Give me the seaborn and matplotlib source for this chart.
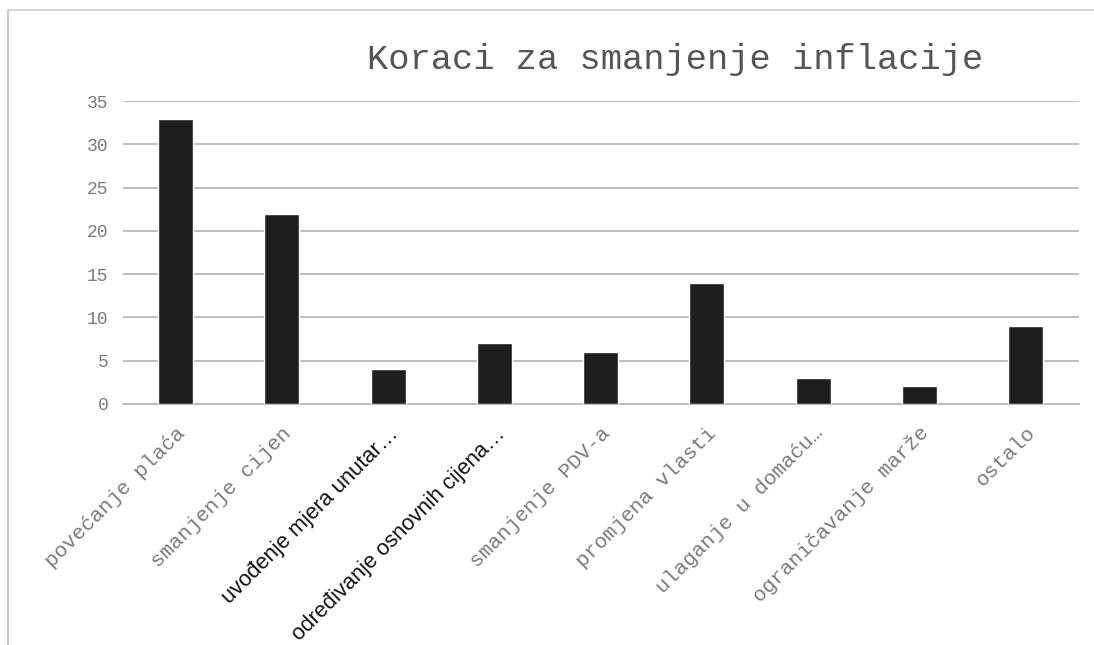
import matplotlib
matplotlib.use('Agg')
import matplotlib.pyplot as plt
import seaborn as sns
import pandas as pd
from matplotlib.lines import Line2D

categories = ["povećanje plaća", "smanjenje cijen", "uvođenje mjera unutar…",
              "određivanje osnovnih cijena…", "smanjenje PDV-a", "promjena vlasti",
              "ulaganje u domaću…", "ograničavanje marže", "ostalo"]
values = [33, 22, 4, 7, 6, 14, 3, 2, 9]
sans_labels = ["uvođenje mjera unutar…", "određivanje osnovnih cijena…"]
title = "Koraci za smanjenje inflacije"

df = pd.DataFrame({"korak": categories, "broj": values})

sns.set_theme(style="white")
plt.rcParams['font.family'] = ['Liberation Mono', 'DejaVu Sans Mono']

fig = plt.figure(figsize=(10.94, 6.45), dpi=100)
ax = fig.add_axes([0.112, 0.374, 0.874, 0.469])

sns.barplot(data=df, x="korak", y="broj", color="#1e1e1e", width=0.33,
            saturation=1, ax=ax, zorder=3)

ax.set_ylim(0, 35)
ax.set_yticks(range(0, 36, 5))
ax.set_xlim(-0.5, len(categories) - 0.5)
ax.yaxis.grid(True, color="#bdbdbd", linewidth=1.4, zorder=0)
ax.xaxis.grid(False)
for s in ["top", "right", "left"]:
    ax.spines[s].set_visible(False)
ax.spines["bottom"].set_color("#bdbdbd")
ax.spines["bottom"].set_linewidth(1.4)
ax.set_xlabel("")
ax.set_ylabel("")
ax.tick_params(axis="y", length=0, pad=10, labelsize=13, labelcolor="#7a7a7a")
ax.tick_params(axis="x", length=0, pad=14)

ax.set_xticks(range(len(categories)))
ax.set_xticklabels(categories, rotation=45, ha="right", rotation_mode="anchor")
for lab in ax.get_xticklabels():
    if lab.get_text() in sans_labels:
        lab.set_family("Liberation Sans")
        lab.set_fontsize(15.8)
        lab.set_color("#111111")
    else:
        lab.set_fontsize(15.2)
        lab.set_color("#7a7a7a")

fig.text(0.617, 0.908, title, ha="center", va="center", fontsize=25.5,
         color="#555555")

# chart area border (scanned Excel frame)
fig.add_artist(Line2D([0.007, 0.007], [0.0, 0.984], transform=fig.transFigure,
                      color="#c8c8c8", linewidth=1.5))
fig.add_artist(Line2D([0.007, 1.0], [0.984, 0.984], transform=fig.transFigure,
                      color="#d4d4d4", linewidth=1.5))

plt.savefig("out.png", dpi=100)
